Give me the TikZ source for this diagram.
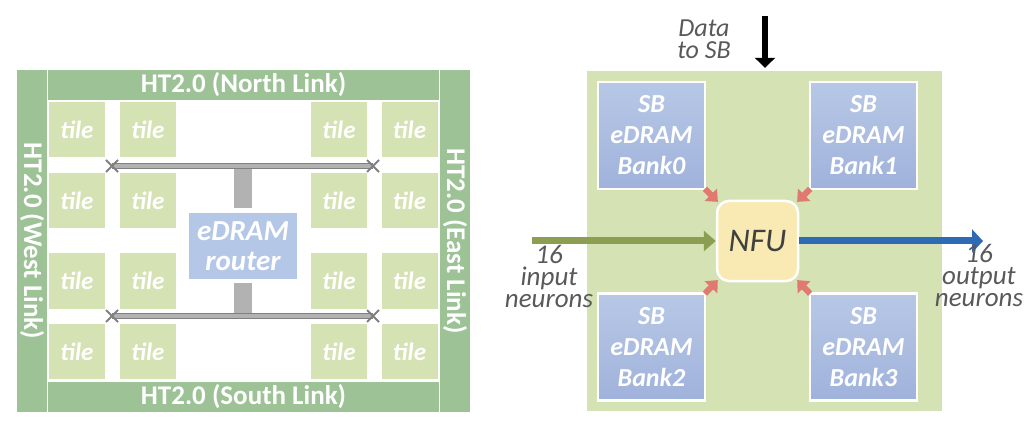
\documentclass[tikz,border=0pt]{standalone}
\usepackage{fontspec}
\setmainfont{Carlito}
\usetikzlibrary{positioning, arrows.meta, shapes.misc}

\definecolor{linkgreen}{RGB}{156,194,150}
\definecolor{tilegreen}{RGB}{213,226,180}
\definecolor{routerblue}{RGB}{180,199,231}
\definecolor{banktop}{RGB}{183,200,230}
\definecolor{bankbottom}{RGB}{160,178,219}
\definecolor{nfuyellow}{RGB}{248,234,178}
\definecolor{busgray}{RGB}{178,178,178}
\definecolor{busedge}{RGB}{128,128,128}
\definecolor{labelgray}{RGB}{89,89,89}
\definecolor{nfutext}{RGB}{64,64,64}
\definecolor{inolive}{RGB}{140,158,82}
\definecolor{outblue}{RGB}{46,107,181}
\definecolor{feedred}{RGB}{224,122,112}

\begin{document}
\begin{tikzpicture}[x = 1pt, y = -1pt,
        linkbar/.style = {fill = linkgreen, text = white, inner sep = 0pt, minimum height = 30pt, font = \fontsize{27}{30}\selectfont\bfseries},
        tilebox/.style = {fill = tilegreen, text = white, inner sep = 0pt, minimum width = 56pt, minimum height = 55pt, font = \fontsize{25}{28}\selectfont\bfseries\itshape},
        router/.style = {fill = routerblue, text = white, inner sep = 0pt, minimum width = 108pt, minimum height = 66pt, align = center, font = \fontsize{29}{30}\selectfont\bfseries\itshape},
        stub/.style = {draw = busgray, line width = 18pt},
        bus/.style = {draw = busedge, line width = 1pt, double = busgray, double distance = 4pt},
        xmark/.style = {cross out, draw = busedge, line width = 2pt, minimum size = 10pt, inner sep = 0pt},
        bank/.style = {top color = banktop, bottom color = bankbottom, draw = white, line width = 2.5pt, text = white, minimum width = 107pt, minimum height = 107pt, align = center, font = \fontsize{26}{31}\selectfont\bfseries\itshape},
        nfu/.style = {fill = nfuyellow, draw = white, line width = 2.5pt, rounded corners = 12pt, text = nfutext, minimum width = 81pt, minimum height = 80pt, font = \fontsize{33}{36}\selectfont\itshape},
        lbl/.style = {text = labelgray, align = center, inner sep = 0pt},
        feed/.style = {draw = feedred, line width = 6pt, shorten < = -2pt, shorten > = -3pt, -{Triangle[length = 10pt, width = 17pt]}}
    ]
                \useasboundingbox (0, 0) rectangle (1030, 430);

                \node[linkbar, minimum width = 391pt] (north) at (243.5, 85) {HT2.0 (North Link)};
                \node[linkbar, minimum width = 391pt] (south) at (243.5, 397) {HT2.0 (South Link)};
                \node[linkbar, minimum width = 342pt, rotate = -90] (west) at (32, 241) {HT2.0 (West Link)};
                \node[linkbar, minimum width = 342pt, rotate = -90] (east) at (455, 241) {HT2.0 (East Link)};

                \foreach \cx [count = \i] in {77, 148, 339, 409.5}
                    \foreach \cy [count = \j] in {130, 200.5, 281, 351.5}
                        \node[tilebox] (tile-\i-\j) at (\cx, \cy) {tile};

                \node[router] (router) at (243, 246) {eDRAM\\router};
                \coordinate (busNW) at (112, 166);
                \coordinate (busNE) at (373, 166);
                \coordinate (busSW) at (112, 316);
                \coordinate (busSE) at (373, 316);
                \draw[stub] ([yshift = 5pt]router.north) -- (router.north |- busNW);
                \draw[stub] ([yshift = -4pt]router.south) -- (router.south |- busSW);
                \draw[bus] (busNW) -- (busNE);
                \draw[bus] (busSW) -- (busSE);
                \foreach \c in {busNW, busNE, busSW, busSE}
                    \node[xmark] (x-\c) at (\c) {};

                \node[fill = tilegreen, minimum width = 355pt, minimum height = 340pt] (chip) at (764.5, 241) {};
                \node[bank] (bank0) at (651.5, 135.5) {SB\\eDRAM\\Bank0};
                \node[bank] (bank1) at (863.5, 135.5) {SB\\eDRAM\\Bank1};
                \node[bank] (bank2) at (651.5, 347) {SB\\eDRAM\\Bank2};
                \node[bank] (bank3) at (863.5, 347) {SB\\eDRAM\\Bank3};
                \node[nfu] (nfu) at (757.5, 241) {NFU};

                \draw[feed] (bank0.south east) -- (nfu.north west);
                \draw[feed] (bank1.south west) -- (nfu.north east);
                \draw[feed] (bank2.north east) -- (nfu.south west);
                \draw[feed] (bank3.north west) -- (nfu.south east);

                \coordinate (dataIn) at (765, 16);
                \draw[-{Triangle[length = 10pt, width = 20pt]}, line width = 6pt, shorten > = 3pt] (dataIn) -- (dataIn |- chip.north);
                \node[lbl, font = \fontsize{26}{22}\selectfont\itshape] (datalbl) at (704, 39) {Data\\to SB};

                \coordinate (inStart) at (532, 241);
                \coordinate (outEnd) at (983, 241);
                \draw[draw = inolive, line width = 7pt, -{Triangle[length = 12pt, width = 20pt]}] (inStart) -- (nfu.west);
                \draw[draw = outblue, line width = 7pt, -{Triangle[length = 11pt, width = 23pt]}] (nfu.east) -- (outEnd);
                \node[lbl, font = \fontsize{27}{22}\selectfont\itshape] (inlbl) at (549, 276) {16\\input\\neurons};
                \node[lbl, font = \fontsize{27}{22}\selectfont\itshape] (outlbl) at (979, 275) {16\\output\\neurons};

            \end{tikzpicture}
\end{document}
